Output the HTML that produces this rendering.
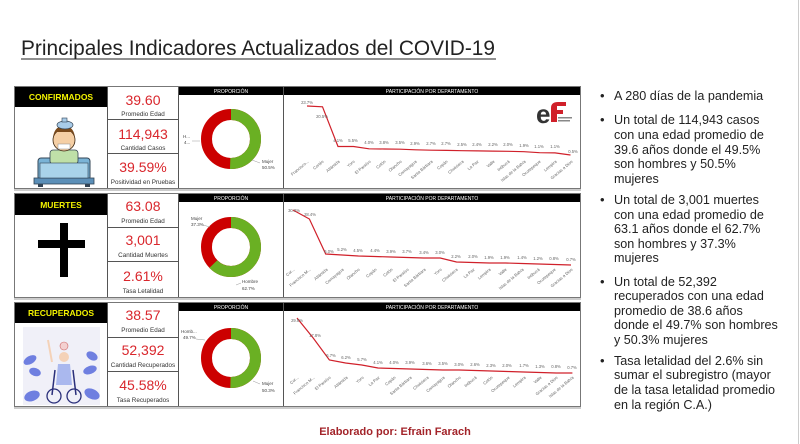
<!DOCTYPE html>
<html><head><meta charset="utf-8"><style>
html,body{margin:0;padding:0;background:#fff;}
svg{display:block;font-family:"Liberation Sans",sans-serif;}
.v{fill:#d9262c;font-size:14px;text-anchor:middle;}
.l{fill:#333;font-size:6.3px;text-anchor:middle;}
.h{fill:#fff;font-size:5px;text-anchor:middle;}
.y{fill:#f2f200;font-size:8.5px;font-weight:bold;text-anchor:middle;}
.d{fill:#666;font-size:4.2px;text-anchor:middle;}
.x{fill:#666;font-size:4.2px;text-anchor:end;}
.dl{fill:#444;font-size:4.5px;}
.r{fill:#222;font-size:12.6px;}
</style></head><body>
<svg width="800" height="444" viewBox="0 0 800 444" xmlns="http://www.w3.org/2000/svg">
<rect width="800" height="444" fill="#fff"/>
<line x1="798.5" y1="0" x2="798.5" y2="444" stroke="#ccc"/>
<text x="21" y="55" font-size="21.5" fill="#222" textLength="474" lengthAdjust="spacingAndGlyphs">Principales Indicadores Actualizados del COVID-19</text>
<line x1="21" y1="59" x2="496" y2="59" stroke="#222" stroke-width="1"/>

<g fill="none" stroke="#777" stroke-width="1">
<rect x="14.5" y="86.5" width="566" height="102"/>
<rect x="14.5" y="193.5" width="566" height="104"/>
<rect x="14.5" y="302.5" width="566" height="104"/>
</g>
<g stroke="#555" stroke-width="1">
<line x1="107.5" y1="87" x2="107.5" y2="188"/><line x1="178.5" y1="87" x2="178.5" y2="188"/><line x1="283.5" y1="87" x2="283.5" y2="188"/>
<line x1="107" y1="119.5" x2="178" y2="119.5"/><line x1="107" y1="153.5" x2="178" y2="153.5"/>
<line x1="107.5" y1="194" x2="107.5" y2="297"/><line x1="178.5" y1="194" x2="178.5" y2="297"/><line x1="283.5" y1="194" x2="283.5" y2="297"/>
<line x1="107" y1="227.5" x2="178" y2="227.5"/><line x1="107" y1="261.5" x2="178" y2="261.5"/>
<line x1="107.5" y1="303" x2="107.5" y2="406"/><line x1="178.5" y1="303" x2="178.5" y2="406"/><line x1="283.5" y1="303" x2="283.5" y2="406"/>
<line x1="107" y1="337.5" x2="178" y2="337.5"/><line x1="107" y1="371.5" x2="178" y2="371.5"/>
</g>
<line x1="14" y1="190" x2="581" y2="190" stroke="#999"/>
<line x1="14" y1="299" x2="581" y2="299" stroke="#999"/>
<line x1="14" y1="408" x2="581" y2="408" stroke="#999"/>

<rect x="15" y="87" width="92" height="20" fill="#000"/><text class="y" x="61" y="100">CONFIRMADOS</text>
<rect x="15" y="194" width="92" height="21" fill="#000"/><text class="y" x="61" y="208">MUERTES</text>
<rect x="15" y="303" width="92" height="20" fill="#000"/><text class="y" x="61" y="316">RECUPERADOS</text>
<g fill="#000">
<rect x="179" y="87" width="104" height="8"/><rect x="284" y="87" width="296" height="8"/>
<rect x="179" y="194" width="104" height="8"/><rect x="284" y="194" width="296" height="8"/>
<rect x="179" y="303" width="104" height="8"/><rect x="284" y="303" width="296" height="8"/>
</g>
<text class="h" x="231" y="93">PROPORCIÓN</text><text class="h" x="432" y="93">PARTICIPACIÓN POR DEPARTAMENTO</text>
<text class="h" x="231" y="200">PROPORCIÓN</text><text class="h" x="432" y="200">PARTICIPACIÓN POR DEPARTAMENTO</text>
<text class="h" x="231" y="309">PROPORCIÓN</text><text class="h" x="432" y="309">PARTICIPACIÓN POR DEPARTAMENTO</text>

<text class="v" x="143" y="105">39.60</text><text class="l" x="143" y="116">Promedio Edad</text>
<text class="v" x="143" y="139">114,943</text><text class="l" x="143" y="150">Cantidad Casos</text>
<text class="v" x="143" y="172">39.59%</text><text class="l" x="143" y="184">Positividad en Pruebas</text>
<text class="v" x="143" y="211">63.08</text><text class="l" x="143" y="223">Promedio Edad</text>
<text class="v" x="143" y="245">3,001</text><text class="l" x="143" y="257">Cantidad Muertes</text>
<text class="v" x="143" y="281">2.61%</text><text class="l" x="143" y="293">Tasa Letalidad</text>
<text class="v" x="143" y="320">38.57</text><text class="l" x="143" y="332">Promedio Edad</text>
<text class="v" x="143" y="355">52,392</text><text class="l" x="143" y="367">Cantidad Recuperados</text>
<text class="v" x="143" y="390">45.58%</text><text class="l" x="143" y="402">Tasa Recuperados</text>

<g fill="none" stroke-width="11">
<circle cx="231" cy="139" r="24.5" stroke="#c00"/>
<circle cx="231" cy="139" r="24.5" stroke="#6ab023" stroke-dasharray="77.7 200" transform="rotate(-90 231 139)"/>
<circle cx="231" cy="247" r="24.5" stroke="#c00"/>
<circle cx="231" cy="247" r="24.5" stroke="#6ab023" stroke-dasharray="96.5 200" transform="rotate(-90 231 247)"/>
<circle cx="231" cy="358" r="24.5" stroke="#c00"/>
<circle cx="231" cy="358" r="24.5" stroke="#6ab023" stroke-dasharray="77.4 200" transform="rotate(-90 231 358)"/>
</g>
<g class="dl">
<text x="183" y="138">H...</text><text x="184" y="144">4...</text>
<text x="262" y="163">Mujer</text><text x="262" y="169">50.5%</text>
<text x="191" y="220">Mujer</text><text x="191" y="226">37.3%</text>
<text x="242" y="283">Hombre</text><text x="242" y="290">62.7%</text>
<text x="181" y="333">Homb...</text><text x="183" y="339">49.7%</text>
<text x="262" y="385">Mujer</text><text x="262" y="392">50.3%</text>
</g>
<g stroke="#999" stroke-width="0.5" fill="none">
<polyline points="192,141 200,141"/><polyline points="252,160 260,163"/>
<polyline points="203,225 210,227"/><polyline points="236,285 241,283"/>
<polyline points="196,339 205,340"/><polyline points="253,381 260,384"/>
</g>

<g>
<rect x="38" y="158" width="52" height="22" rx="3" fill="#7ab3d6" stroke="#345" stroke-width="1"/>
<rect x="34" y="178" width="60" height="6" fill="#5b8fb8" stroke="#345" stroke-width="0.8"/>
<rect x="38" y="184" width="5" height="3" fill="#345"/><rect x="85" y="184" width="5" height="3" fill="#345"/>
<rect x="50" y="150" width="28" height="14" rx="3" fill="#bfe0a8" stroke="#345" stroke-width="0.8"/>
<circle cx="64" cy="140" r="11" fill="#f5cfa5" stroke="#3a2510" stroke-width="0.8"/>
<path d="M53 137 Q55 125 64 127 Q73 125 75 137 L72 132 L56 132 Z" fill="#7b4a1c"/>
<rect x="58" y="144" width="12" height="5" fill="#fff" stroke="#888" stroke-width="0.5"/>
<ellipse cx="65" cy="125" rx="8" ry="4" fill="#a8cbe8" stroke="#345" stroke-width="0.7"/>
<rect x="62" y="118" width="5" height="4" fill="#a8cbe8" stroke="#345" stroke-width="0.6"/>
<rect x="40" y="163" width="48" height="15" fill="#a9d3ea" stroke="#345" stroke-width="0.6"/>
</g>
<rect x="60" y="223" width="8" height="54" fill="#000"/>
<rect x="38" y="240" width="47" height="8" fill="#000"/>
<g>
<rect x="23" y="327" width="77" height="78" fill="#f0f0f8"/>
<circle cx="64" cy="346" r="4" fill="#f3d0d0" stroke="#c66" stroke-width="0.6"/>
<circle cx="64" cy="357" r="5" fill="#f4d2b8"/>
<path d="M58 364 L70 364 L72 385 L56 385 Z" fill="#aab8ee"/>
<path d="M55 370 L52 395 M73 370 L76 395" stroke="#2a2f7a" stroke-width="1.5" fill="none"/>
<circle cx="54" cy="396" r="7" fill="none" stroke="#2a2f7a" stroke-width="1.3"/>
<circle cx="74" cy="396" r="7" fill="none" stroke="#2a2f7a" stroke-width="1.3"/>
<path d="M52 362 L48 340" stroke="#f4d2b8" stroke-width="2"/>
<g fill="#6f7fe0">
<ellipse cx="30" cy="360" rx="7" ry="4" transform="rotate(-30 30 360)"/>
<ellipse cx="35" cy="372" rx="6" ry="4" transform="rotate(20 35 372)"/>
<ellipse cx="32" cy="396" rx="8" ry="5" transform="rotate(-20 32 396)"/>
<ellipse cx="92" cy="356" rx="6" ry="4" transform="rotate(30 92 356)"/>
<ellipse cx="90" cy="370" rx="7" ry="4" transform="rotate(-20 90 370)"/>
<ellipse cx="92" cy="394" rx="8" ry="5" transform="rotate(25 92 394)"/>
</g>
</g>

<g>
<text x="536" y="123" font-size="26" font-weight="bold" fill="#333">e</text>
<path d="M551 122 L551 108 Q551 102 558 102 L566 102 L566 106 L557 106 L557 110 L563 110 L563 114 L557 114 L557 122 Z" fill="#d0202a"/>
<rect x="558" y="117" width="14" height="1.5" fill="#888"/><rect x="558" y="120" width="12" height="1.5" fill="#888"/>
</g>

<polyline fill="none" stroke="#d0202a" stroke-width="1.2" points="307,106 322.5,106.8 338,146.5 353.5,146.5 369,148.8 384.5,149 400,149.2 415.5,149.8 431,150.2 446.5,150.4 462,150.7 477.5,150.9 493,151.1 508.5,151.3 524,151.7 539.5,152.7 555,152.9 570.5,155"/>
<g class="d">
<text x="307" y="104">23.7%</text><text x="322" y="118">20.5%</text><text x="338" y="142">4.1%</text><text x="353" y="142">5.5%</text><text x="369" y="144">4.0%</text><text x="384" y="144">3.8%</text><text x="400" y="144">3.5%</text><text x="415" y="145">2.9%</text><text x="431" y="145">2.7%</text><text x="446" y="145">2.7%</text><text x="462" y="146">2.5%</text><text x="477" y="146">2.4%</text><text x="493" y="146">2.2%</text><text x="508" y="146">2.0%</text><text x="524" y="147">1.9%</text><text x="539" y="148">1.1%</text><text x="555" y="148">1.1%</text><text x="573" y="153">0.5%</text>
</g>
<g class="x">
<text transform="translate(309,162) rotate(-40)">Francisco...</text>
<text transform="translate(324,162) rotate(-40)">Cortés</text>
<text transform="translate(340,162) rotate(-40)">Atlántida</text>
<text transform="translate(355,162) rotate(-40)">Yoro</text>
<text transform="translate(371,162) rotate(-40)">El Paraíso</text>
<text transform="translate(386,162) rotate(-40)">Colón</text>
<text transform="translate(402,162) rotate(-40)">Olancho</text>
<text transform="translate(417,162) rotate(-40)">Comayagua</text>
<text transform="translate(433,162) rotate(-40)">Santa Bárbara</text>
<text transform="translate(448,162) rotate(-40)">Copán</text>
<text transform="translate(464,162) rotate(-40)">Choluteca</text>
<text transform="translate(479,162) rotate(-40)">La Paz</text>
<text transform="translate(495,162) rotate(-40)">Valle</text>
<text transform="translate(510,162) rotate(-40)">Intibucá</text>
<text transform="translate(526,162) rotate(-40)">Islas de la Bahía</text>
<text transform="translate(541,162) rotate(-40)">Ocotepeque</text>
<text transform="translate(557,162) rotate(-40)">Lempira</text>
<text transform="translate(573,162) rotate(-40)">Gracias a Dios</text>
</g>

<polyline fill="none" stroke="#d0202a" stroke-width="1.2" points="293,210 309.4,219 325.7,254 342.1,255 358.4,256 374.8,256.5 391.1,257 407.5,257.5 423.8,258 440.2,258 456.5,262 472.9,262.5 489.2,263 505.6,263 521.9,263.5 538.3,264 554.6,264.5 571,265"/>
<g class="d">
<text x="294" y="212">30.0%</text><text x="310" y="216">28.4%</text><text x="329" y="253">6.0%</text><text x="342" y="251">5.2%</text><text x="358" y="252">4.5%</text><text x="375" y="252">4.4%</text><text x="391" y="253">3.9%</text><text x="407" y="253">3.7%</text><text x="424" y="254">3.4%</text><text x="440" y="254">3.0%</text><text x="456" y="258">2.2%</text><text x="473" y="258">2.0%</text><text x="489" y="259">1.9%</text><text x="505" y="259">1.9%</text><text x="522" y="259">1.4%</text><text x="538" y="260">1.2%</text><text x="554" y="260">0.8%</text><text x="571" y="261">0.7%</text>
</g>
<g class="x">
<text transform="translate(295,270) rotate(-40)">Cor...</text>
<text transform="translate(311,270) rotate(-40)">Francisco M...</text>
<text transform="translate(328,270) rotate(-40)">Atlántida</text>
<text transform="translate(344,270) rotate(-40)">Comayagua</text>
<text transform="translate(360,270) rotate(-40)">Olancho</text>
<text transform="translate(377,270) rotate(-40)">Copán</text>
<text transform="translate(393,270) rotate(-40)">Colón</text>
<text transform="translate(409,270) rotate(-40)">El Paraíso</text>
<text transform="translate(426,270) rotate(-40)">Santa Bárbara</text>
<text transform="translate(442,270) rotate(-40)">Yoro</text>
<text transform="translate(458,270) rotate(-40)">Choluteca</text>
<text transform="translate(475,270) rotate(-40)">La Paz</text>
<text transform="translate(491,270) rotate(-40)">Lempira</text>
<text transform="translate(507,270) rotate(-40)">Valle</text>
<text transform="translate(524,270) rotate(-40)">Islas de la Bahía</text>
<text transform="translate(540,270) rotate(-40)">Intibucá</text>
<text transform="translate(556,270) rotate(-40)">Ocotepeque</text>
<text transform="translate(573,270) rotate(-40)">Gracias a Dios</text>
</g>

<polyline fill="none" stroke="#d0202a" stroke-width="1.2" points="297,318 313.2,338 329.4,360 345.6,363 361.8,365 378,368 394.2,368.5 410.4,369 426.6,369.5 442.8,370 459,370 475.2,370.5 491.4,371 507.6,371.5 523.8,372 540,372.5 556.2,373 572.4,373"/>
<g class="d">
<text x="297" y="322">29.8%</text><text x="315" y="337">17.8%</text><text x="331" y="357">6.7%</text><text x="346" y="359">6.2%</text><text x="362" y="361">5.7%</text><text x="378" y="364">4.1%</text><text x="394" y="364">4.0%</text><text x="410" y="364">3.9%</text><text x="427" y="365">3.6%</text><text x="443" y="365">3.5%</text><text x="459" y="366">3.0%</text><text x="475" y="366">2.6%</text><text x="491" y="367">2.3%</text><text x="507" y="367">2.0%</text><text x="524" y="367">1.7%</text><text x="540" y="368">1.3%</text><text x="556" y="368">0.8%</text><text x="572" y="369">0.7%</text>
</g>
<g class="x">
<text transform="translate(299,378) rotate(-40)">Cor...</text>
<text transform="translate(315,378) rotate(-40)">Francisco M...</text>
<text transform="translate(331,378) rotate(-40)">El Paraíso</text>
<text transform="translate(348,378) rotate(-40)">Atlántida</text>
<text transform="translate(364,378) rotate(-40)">Yoro</text>
<text transform="translate(380,378) rotate(-40)">La Paz</text>
<text transform="translate(396,378) rotate(-40)">Copán</text>
<text transform="translate(412,378) rotate(-40)">Santa Bárbara</text>
<text transform="translate(429,378) rotate(-40)">Choluteca</text>
<text transform="translate(445,378) rotate(-40)">Comayagua</text>
<text transform="translate(461,378) rotate(-40)">Olancho</text>
<text transform="translate(477,378) rotate(-40)">Intibucá</text>
<text transform="translate(493,378) rotate(-40)">Colón</text>
<text transform="translate(510,378) rotate(-40)">Ocotepeque</text>
<text transform="translate(526,378) rotate(-40)">Lempira</text>
<text transform="translate(542,378) rotate(-40)">Valle</text>
<text transform="translate(558,378) rotate(-40)">Gracias a Dios</text>
<text transform="translate(574,378) rotate(-40)">Islas de la Bahía</text>
</g>

<text x="395" y="435" font-size="11" font-weight="bold" fill="#a3242a" text-anchor="middle">Elaborado por: Efrain Farach</text>

<g fill="#222" font-size="13">
<text x="600" y="100">•</text><text x="600" y="124">•</text><text x="600" y="204">•</text><text x="600" y="286">•</text><text x="600" y="365">•</text>
</g>
<g class="r">
<text x="614" y="100">A 280 días de la pandemia</text>
<text x="614" y="124">Un total de 114,943 casos</text>
<text x="614" y="139">con una edad promedio de</text>
<text x="614" y="154">39.6 años donde el 49.5%</text>
<text x="614" y="168">son hombres y 50.5%</text>
<text x="614" y="183">mujeres</text>
<text x="614" y="204">Un total de 3,001 muertes</text>
<text x="614" y="219">con una edad promedio de</text>
<text x="614" y="233">63.1 años donde el 62.7%</text>
<text x="614" y="248">son hombres y 37.3%</text>
<text x="614" y="262">mujeres</text>
<text x="614" y="286">Un total de 52,392</text>
<text x="614" y="300">recuperados con una edad</text>
<text x="614" y="315">promedio de 38.6 años</text>
<text x="614" y="329">donde el 49.7% son hombres</text>
<text x="614" y="344">y 50.3% mujeres</text>
<text x="614" y="365">Tasa letalidad del 2.6%  sin</text>
<text x="614" y="379">sumar el subregistro (mayor</text>
<text x="614" y="394">de la tasa letalidad promedio</text>
<text x="614" y="409">en la región C.A.)</text>
</g>
</svg>
</body></html>
